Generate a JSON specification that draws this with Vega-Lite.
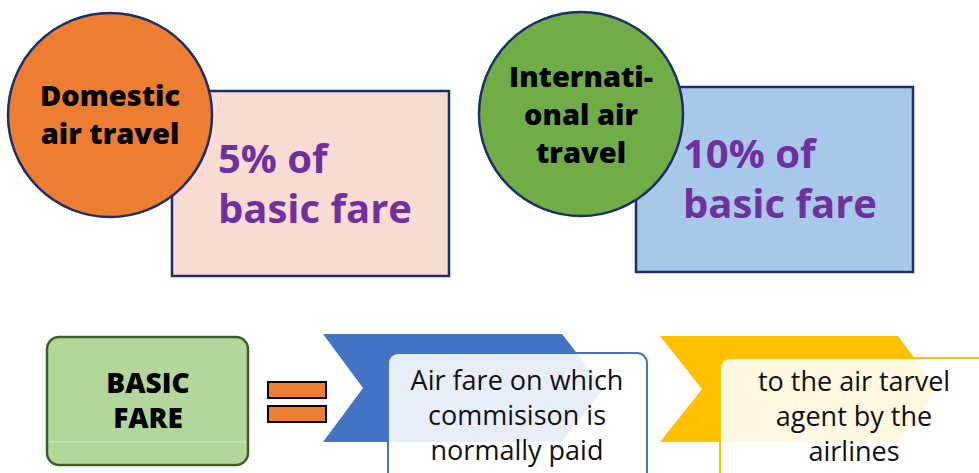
{
  "$schema": "https://vega.github.io/schema/vega-lite/v6.json",
  "width": 979,
  "height": 473,
  "padding": 0,
  "autosize": {"type": "none"},
  "background": "white",
  "config": {"view": {"stroke": null}},
  "datasets": {
    "boxes": [
      {"id": "pink", "x": 172, "x2": 449, "y": 91, "y2": 276},
      {"id": "blue", "x": 636, "x2": 913, "y": 87, "y2": 272}
    ],
    "circles": [
      {"id": "dom", "x": 110, "y": 115},
      {"id": "intl", "x": 581, "y": 114}
    ],
    "circleText": [
      {"t": "Domestic", "x": 110, "y": 106},
      {"t": "air travel", "x": 110, "y": 144},
      {"t": "Internati-", "x": 581, "y": 87},
      {"t": "onal air", "x": 581, "y": 125},
      {"t": "travel", "x": 581, "y": 163}
    ],
    "rateText": [
      {"t": "5% of", "x": 218, "y": 173},
      {"t": "basic fare", "x": 218, "y": 223},
      {"t": "10% of", "x": 683, "y": 168},
      {"t": "basic fare", "x": 683, "y": 218}
    ],
    "basic": [
      {"id": "green", "x": 47, "x2": 248, "y": 337, "y2": 465}
    ],
    "basicLine": [
      {"x": 49, "x2": 246, "y": 442}
    ],
    "basicText": [
      {"t": "BASIC", "x": 148, "y": 393},
      {"t": "FARE", "x": 148, "y": 428}
    ],
    "equals": [
      {"id": "eq", "x": 268, "x2": 326, "y": 382, "y2": 398},
      {"id": "eq", "x": 268, "x2": 326, "y": 406, "y2": 422}
    ],
    "chevrons": [
      {"id": "chevblue", "y": 334, "x": 323, "x2": 562},
      {"id": "chevblue", "y": 388, "x": 363, "x2": 604},
      {"id": "chevblue", "y": 442, "x": 323, "x2": 562},
      {"id": "chevyellow", "y": 336, "x": 660, "x2": 898},
      {"id": "chevyellow", "y": 389, "x": 702, "x2": 938},
      {"id": "chevyellow", "y": 442, "x": 660, "x2": 898}
    ],
    "textBoxes": [
      {"id": "boxblue", "x": 388, "x2": 647, "y": 353, "y2": 490},
      {"id": "boxyellow", "x": 720, "x2": 995, "y": 358, "y2": 490}
    ],
    "stepText": [
      {"t": "Air fare on which", "x": 517, "y": 390},
      {"t": "commisison is", "x": 517, "y": 425},
      {"t": "normally paid", "x": 517, "y": 460},
      {"t": "to the air tarvel", "x": 854, "y": 391},
      {"t": "agent by the", "x": 854, "y": 426},
      {"t": "airlines", "x": 854, "y": 461}
    ]
  },
  "encoding": {
    "x": {"field": "x", "type": "quantitative", "scale": {"domain": [0, 979], "nice": false, "zero": false}, "axis": null},
    "y": {"field": "y", "type": "quantitative", "scale": {"domain": [0, 473], "reverse": true, "nice": false, "zero": false}, "axis": null}
  },
  "layer": [
    {
      "data": {"name": "boxes"},
      "mark": {"type": "rect", "stroke": "#1B2F6B", "strokeWidth": 2.5},
      "encoding": {
        "x2": {"field": "x2"},
        "y2": {"field": "y2"},
        "fill": {"field": "id", "type": "nominal", "legend": null,
          "scale": {"domain": ["pink", "blue", "dom", "intl", "green", "eq", "chevblue", "chevyellow", "boxblue", "boxyellow"],
                    "range": ["#F8DCD3", "#A8C8EA", "#ED7D31", "#70AD47", "#B3D79B", "#ED7D31", "#4472C4", "#FFC000", "#FFFFFF", "#FFFFFF"]}}
      }
    },
    {
      "data": {"name": "circles"},
      "mark": {"type": "point", "shape": "circle", "filled": true, "size": 41616, "stroke": "#1B2F6B", "strokeWidth": 2.5, "opacity": 1},
      "encoding": {
        "fill": {"field": "id", "type": "nominal", "legend": null}
      }
    },
    {
      "data": {"name": "circleText"},
      "mark": {"type": "text", "font": "Open Sans", "fontWeight": 800, "fontSize": 29, "align": "center", "baseline": "alphabetic", "color": "#000000"},
      "encoding": {"text": {"field": "t"}}
    },
    {
      "data": {"name": "rateText"},
      "mark": {"type": "text", "font": "Open Sans", "fontWeight": "bold", "fontSize": 40, "align": "left", "baseline": "alphabetic", "color": "#7030A0"},
      "encoding": {"text": {"field": "t"}}
    },
    {
      "data": {"name": "basic"},
      "mark": {"type": "rect", "stroke": "#3F5F28", "strokeWidth": 2.5, "cornerRadius": 12},
      "encoding": {
        "x2": {"field": "x2"},
        "y2": {"field": "y2"},
        "fill": {"field": "id", "type": "nominal", "legend": null}
      }
    },
    {
      "data": {"name": "basicLine"},
      "mark": {"type": "rule", "color": "#D3EAC6", "strokeWidth": 1},
      "encoding": {"x2": {"field": "x2"}}
    },
    {
      "data": {"name": "basicText"},
      "mark": {"type": "text", "font": "Open Sans", "fontWeight": 800, "fontSize": 28, "align": "center", "baseline": "alphabetic", "color": "#000000"},
      "encoding": {"text": {"field": "t"}}
    },
    {
      "data": {"name": "equals"},
      "mark": {"type": "rect", "stroke": "#000000", "strokeWidth": 2},
      "encoding": {
        "x2": {"field": "x2"},
        "y2": {"field": "y2"},
        "fill": {"field": "id", "type": "nominal", "legend": null}
      }
    },
    {
      "data": {"name": "chevrons"},
      "mark": {"type": "area", "orient": "horizontal", "interpolate": "linear", "opacity": 1},
      "encoding": {
        "x2": {"field": "x2"},
        "fill": {"field": "id", "type": "nominal", "legend": null}
      }
    },
    {
      "data": {"name": "textBoxes"},
      "mark": {"type": "rect", "cornerRadius": 10, "strokeWidth": 2, "fillOpacity": 0.88, "clip": true},
      "encoding": {
        "x2": {"field": "x2"},
        "y2": {"field": "y2"},
        "fill": {"field": "id", "type": "nominal", "legend": null},
        "stroke": {"field": "id", "type": "nominal", "legend": null,
          "scale": {"domain": ["boxblue", "boxyellow"], "range": ["#4472C4", "#FFC000"]}}
      }
    },
    {
      "data": {"name": "stepText"},
      "mark": {"type": "text", "font": "Open Sans", "fontSize": 27, "align": "center", "baseline": "alphabetic", "color": "#111111"},
      "encoding": {"text": {"field": "t"}}
    }
  ]
}
